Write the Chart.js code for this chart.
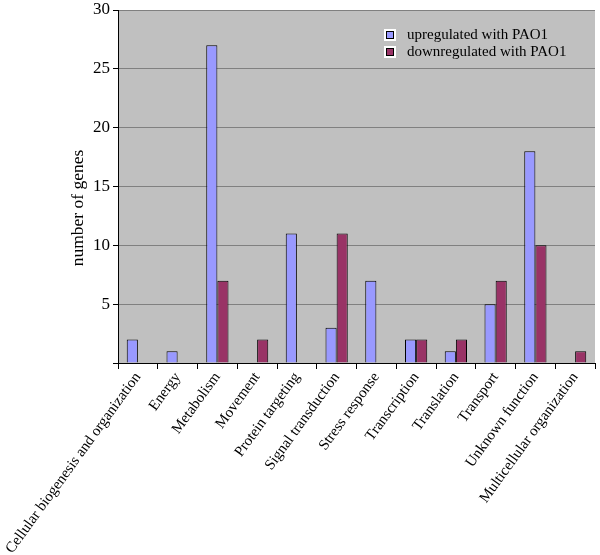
<!DOCTYPE html>
<html><head><meta charset="utf-8">
<script src="https://cdn.jsdelivr.net/npm/chart.js@4/dist/chart.umd.min.js"></script>
<style>html,body{margin:0;padding:0;background:#fff}#w{width:600px;height:555px}</style>
</head><body><div id="w"><canvas id="c" width="600" height="555"></canvas></div>
<script>
const categories = ["Cellular biogenesis and organization","Energy","Metabolism","Movement","Protein targeting","Signal transduction","Stress response","Transcription","Translation","Transport","Unknown function","Multicellular organization"];
const upregulated = [2,1,27,0,11,3,7,2,1,5,18,0];
const downregulated = [0,0,7,2,0,11,0,2,2,7,10,1];
const seriesNames = ["upregulated with PAO1","downregulated with PAO1"];
const yTicks = [5,10,15,20,25,30];
const yTitle = "number of genes";
const FONT = "Liberation Serif";

const bgPlugin = {
  id:'bg',
  beforeDraw(chart){
    const a = chart.chartArea, ctx = chart.ctx;
    ctx.save(); ctx.fillStyle = '#c0c0c0';
    ctx.fillRect(a.left, a.top, a.right-a.left, a.bottom-a.top);
    ctx.restore();
  },
  afterDraw(chart){
    const ctx = chart.ctx;
    ctx.save();
    ctx.font = '15px "' + FONT + '"';
    ctx.textBaseline = 'middle';
    chart.data.datasets.forEach((ds,i)=>{
      const y = 35 + i*17, x = 386;
      ctx.fillStyle = '#fff'; ctx.fillRect(x-2, y-6, 12, 12);
      ctx.fillStyle = ds.backgroundColor; ctx.fillRect(x, y-4, 8, 8);
      ctx.strokeStyle = '#000'; ctx.lineWidth = 1; ctx.strokeRect(x+0.5, y-3.5, 7, 7);
      ctx.fillStyle = '#000'; ctx.fillText(ds.label, 407, y);
    });
    // y axis title
    ctx.translate(78, 208);
    ctx.rotate(-Math.PI/2);
    ctx.textAlign = 'center';
    ctx.textBaseline = 'middle';
    ctx.font = '17.5px "' + FONT + '"';
    ctx.fillText(yTitle, 0, 0);
    ctx.restore();
  }
};

new Chart(document.getElementById('c'), {
  type:'bar',
  data:{
    labels: categories,
    datasets:[
      {label:seriesNames[0], data:upregulated, backgroundColor:'#9999ff', borderColor:'#000', borderWidth:1, borderSkipped:'bottom'},
      {label:seriesNames[1], data:downregulated, backgroundColor:'#993366', borderColor:'#000', borderWidth:1, borderSkipped:'bottom'}
    ]
  },
  options:{
    responsive:false, animation:false,
    layout:{padding:{top:10,right:5,left:0,bottom:0}},
    datasets:{bar:{categoryPercentage:0.56, barPercentage:1.0}},
    plugins:{legend:{display:false}, tooltip:{enabled:false}},
    scales:{
      x:{
        grid:{display:true, drawOnChartArea:false, offset:true, tickLength:6, color:'#000'},
        border:{color:'#000', width:1},
        ticks:{color:'#000', font:{family:FONT, size:15}, minRotation:54, maxRotation:54, autoSkip:false, padding:0},
        afterFit(s){ s.height = 192; s.paddingLeft = 0; s.paddingRight = 0; }
      },
      y:{
        min:0, max:30,
        afterBuildTicks(s){ s.ticks = [0].concat(yTicks).map(v=>({value:v})); },
        grid:{color:'#808080', tickColor:'#000', tickLength:5, lineWidth:1},
        border:{color:'#000', width:1},
        ticks:{color:'#000', font:{family:FONT, size:17}, padding:3, callback:(v)=> v===0 ? '' : v},
        title:{display:false},
        afterFit(s){ s.width = 118; s.paddingTop = 0; s.paddingBottom = 0; }
      }
    }
  },
  plugins:[bgPlugin]
});
</script></body></html>
